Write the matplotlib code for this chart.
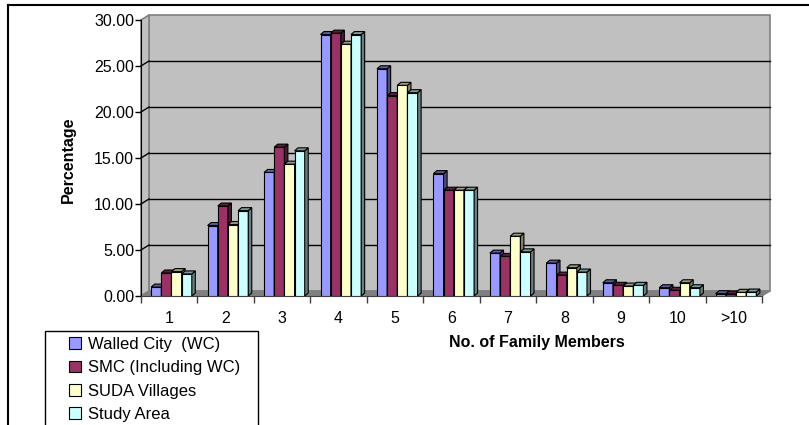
import matplotlib.pyplot as plt
from matplotlib.patches import Polygon, Rectangle, Patch
from matplotlib.lines import Line2D
import numpy as np

plt.rcParams['font.family'] = ['Liberation Sans', 'DejaVu Sans']

# datos
grupos = ['1', '2', '3', '4', '5', '6', '7', '8', '9', '10', '>10']
series = ['Walled City  (WC)', 'SMC (Including WC)', 'SUDA Villages', 'Study Area']
walled_city = [0.97, 7.66, 13.43, 28.42, 24.70, 13.30, 4.66, 3.57, 1.44, 0.90, 0.25]
smc = [2.50, 9.78, 16.18, 28.57, 21.78, 11.50, 4.30, 2.27, 1.16, 0.62, 0.22]
suda = [2.65, 7.77, 14.33, 27.37, 22.90, 11.50, 6.50, 3.07, 1.08, 1.44, 0.40]
study_area = [2.40, 9.28, 15.78, 28.42, 22.10, 11.50, 4.80, 2.60, 1.16, 0.90, 0.43]
valores = [walled_city, smc, suda, study_area]

colores = ['#9999FF', '#993366', '#FFFFCC', '#CCFFFF']
lados = ['#4D4D80', '#4D1A33', '#808066', '#668080']
techos = ['#5C5C99', '#5C1F3D', '#999980', '#7A9999']

W, H = 809, 425
fig = plt.figure(figsize=(W / 100, H / 100), dpi=100)

# plano frontal del grafico (pixeles)
L, R, B, T = 141, 762, 296, 20
ax = fig.add_axes([L / W, (H - B) / H, (R - L) / W, (B - T) / H])
ax.set_xlim(-0.5, 10.5)
ax.set_ylim(0, 30)
ax.patch.set_visible(False)

px_x = (R - L) / 11.0   # pixeles por unidad en x
px_y = (B - T) / 30.0   # pixeles por unidad en y

# profundidad de las paredes
dx = 8 / px_x
dy = 5 / px_y
x0, x1 = -0.5, 10.5

# pared del fondo, pared izquierda y piso
ax.add_patch(Polygon([(x0 + dx, dy), (x1 + dx, dy), (x1 + dx, 30 + dy), (x0 + dx, 30 + dy)],
                     closed=True, facecolor='#C0C0C0', edgecolor='#808080', lw=1.2, clip_on=False, zorder=0))
ax.add_patch(Polygon([(x0, 0), (x0 + dx, dy), (x0 + dx, 30 + dy), (x0, 30)],
                     closed=True, facecolor='#C0C0C0', edgecolor='#808080', lw=1.2, clip_on=False, zorder=0))
ax.add_patch(Polygon([(x0, 0), (x1, 0), (x1 + dx, dy), (x0 + dx, dy)],
                     closed=True, facecolor='#808080', edgecolor='#808080', lw=1, clip_on=False, zorder=1))

# lineas de grilla
for v in range(5, 30, 5):
    ax.plot([x0 + dx, x1 + dx], [v + dy, v + dy], color='black', lw=1, clip_on=False, zorder=0.5)
    ax.plot([x0, x0 + dx], [v, v + dy], color='black', lw=1, clip_on=False, zorder=0.5)

# barras
ancho = 0.18
corr = 0.04
bdx = 3.5 / px_x
bdy = 3 / px_y
xs = np.arange(len(grupos))
for i, vals in enumerate(valores):
    pos = xs + (i - 1.5) * ancho + corr
    z = 3 + i
    ax.bar(pos, vals, width=ancho, color=colores[i], edgecolor='black', lw=0.8, zorder=z)
    for p, v in zip(pos, vals):
        der = p + ancho / 2
        izq = p - ancho / 2
        ax.add_patch(Polygon([(der, 0), (der + bdx, bdy), (der + bdx, v + bdy), (der, v)],
                             closed=True, facecolor=lados[i], edgecolor='black', lw=0.8, zorder=z))
        ax.add_patch(Polygon([(izq, v), (der, v), (der + bdx, v + bdy), (izq + bdx, v + bdy)],
                             closed=True, facecolor=techos[i], edgecolor='black', lw=0.8, zorder=z))

# ejes
for s in ['top', 'right']:
    ax.spines[s].set_visible(False)
ax.spines['left'].set_color('black')
ax.spines['bottom'].set_color('#404040')
ax.spines['left'].set_zorder(2)
ax.spines['bottom'].set_zorder(2)
ax.set_yticks(range(0, 31, 5))
ax.set_yticklabels(['%.2f' % v for v in range(0, 31, 5)], fontsize=11.5)
ax.tick_params(axis='y', direction='out', length=4, width=1, pad=1)
ax.set_xticks(np.arange(-0.5, 11, 1))
ax.set_xticklabels([])
ax.tick_params(axis='x', which='major', direction='out', length=5, width=1, color='#404040')
ax.set_xticks(xs, minor=True)
ax.set_xticklabels(grupos, minor=True, fontsize=11.5)
ax.tick_params(axis='x', which='minor', length=0, pad=10.5)

fig.text(68 / W, 1 - 160 / H, 'Percentage', rotation=90, fontsize=11.5, fontweight='bold',
         ha='center', va='center')
fig.text(537 / W, 1 - 342 / H, 'No. of Family Members', fontsize=11.5, fontweight='bold',
         ha='center', va='center')

# leyenda
fig.add_artist(Rectangle((45 / W, -0.05), 213 / W, (H - 331) / H + 0.05, transform=fig.transFigure,
                         facecolor='white', edgecolor='black', lw=1))
manijas = [Patch(facecolor=c, edgecolor='black', lw=0.8) for c in colores]
fig.legend(manijas, series, loc='upper left', bbox_to_anchor=(69 / W, 1 - 337 / H),
           frameon=False, fontsize=12, handlelength=0.72, handleheight=0.68, handletextpad=0.4,
           labelspacing=0.5, borderpad=0, borderaxespad=0)

# marco exterior
fig.add_artist(Line2D([8 / W, 1], [1 - 5 / H, 1 - 5 / H], color='black', lw=1.5, transform=fig.transFigure))
fig.add_artist(Line2D([8 / W, 8 / W], [0, 1 - 5 / H], color='black', lw=1.5, transform=fig.transFigure))

fig.savefig('out.png', dpi=100)
